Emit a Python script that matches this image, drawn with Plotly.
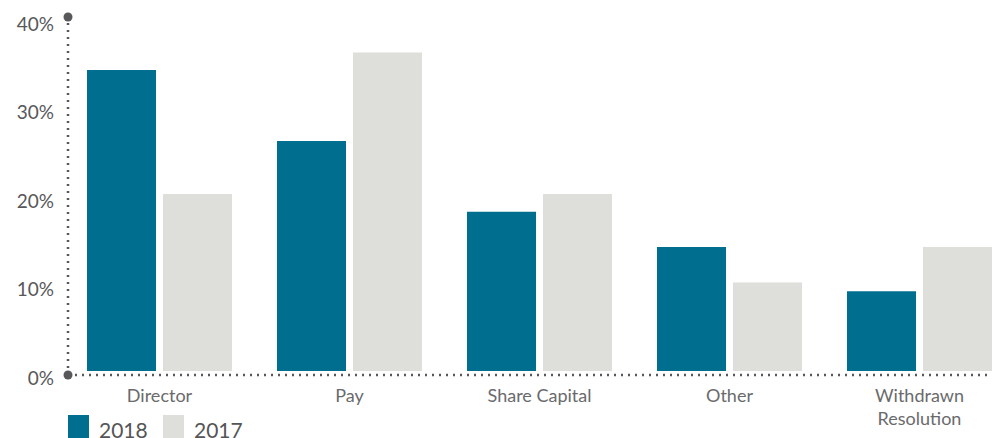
import plotly.graph_objects as go

# data (percent of resolutions)
categories = ['Director', 'Pay', 'Share Capital', 'Other', 'Withdrawn<br>Resolution']
series_names = ['2018', '2017']
values_2018 = [34, 26, 18, 14, 9]
values_2017 = [20, 36, 20, 10, 14]
tick_vals = [0, 10, 20, 30, 40]
tick_labels = ['0%', '10%', '20%', '30%', '40%']

colors = ['#006f8f', '#dededa']
axis_color = '#58585b'
font_family = 'Lato, "Open Sans", sans-serif'

fig = go.Figure()
for name, vals, col in zip(series_names, [values_2018, values_2017], colors):
    fig.add_trace(go.Bar(
        x=categories,
        y=vals,
        name=name,
        marker=dict(color=col, line=dict(width=0)),
        showlegend=False,
        hoverinfo='skip'
    ))

dot_line = dict(color=axis_color, width=2.5, dash='2px,5px')

shapes = [
    # dotted y axis
    dict(type='line', xref='paper', yref='paper', x0=0, x1=0, y0=0, y1=1, line=dot_line),
    # dotted x axis
    dict(type='line', xref='paper', yref='paper', x0=0, x1=0.995, y0=0, y1=0, line=dot_line),
]
# end dots on the axes
for yy in [0, 1]:
    shapes.append(dict(
        type='circle', xref='paper', yref='paper',
        xsizemode='pixel', ysizemode='pixel', xanchor=0, yanchor=yy,
        x0=-4.5, x1=4.5, y0=-4.5, y1=4.5,
        fillcolor=axis_color, line=dict(width=0)
    ))

# custom legend with large squares
annotations = []
for i, (name, col) in enumerate(zip(series_names, colors)):
    off = i * 95
    shapes.append(dict(
        type='rect', xref='paper', yref='paper',
        xsizemode='pixel', ysizemode='pixel', xanchor=0, yanchor=0,
        x0=off, x1=off + 21, y0=-40, y1=-64,
        fillcolor=col, line=dict(width=0)
    ))
    annotations.append(dict(
        text=name, xref='paper', yref='paper', x=0, y=0,
        xshift=off + 29, yshift=-54, xanchor='left', yanchor='middle',
        showarrow=False, font=dict(size=21, color='#555557', family=font_family)
    ))

# page body adds an 8px margin, so the figure is 8px smaller than the window
fig.update_layout(
    width=992,
    height=430,
    margin=dict(l=60, r=0, t=9, b=63),
    paper_bgcolor='white',
    plot_bgcolor='white',
    barmode='group',
    bargap=0.2,
    bargroupgap=0.092,
    shapes=shapes,
    annotations=annotations,
    xaxis=dict(
        range=[-0.4816, 4.4237],
        automargin=False,
        showgrid=False, zeroline=False, showline=False,
        tickfont=dict(size=18, color='#6a6a6c', family=font_family),
        ticks='', ticklabelstandoff=8
    ),
    yaxis=dict(
        range=[-0.45, 40],
        automargin=False,
        tickvals=tick_vals, ticktext=tick_labels,
        showgrid=False, zeroline=False, showline=False,
        tickfont=dict(size=19, color=axis_color, family=font_family),
        ticks='', ticklabelstandoff=13, ticklabelshift=7
    ),
    showlegend=False
)

fig.write_html("out.html")
